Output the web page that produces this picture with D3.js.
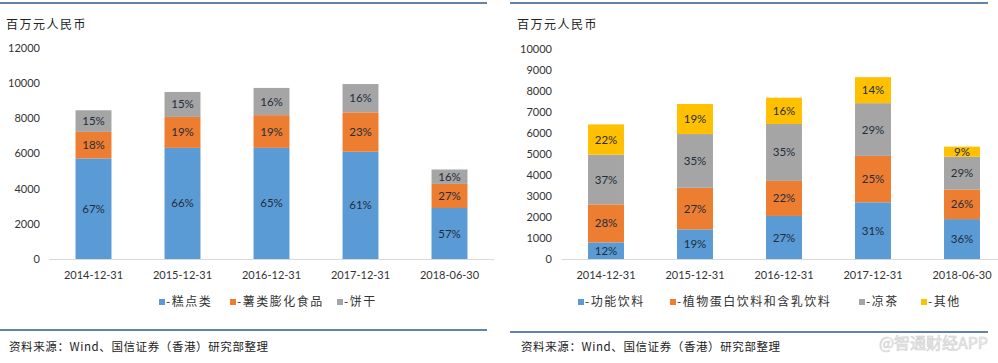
<!DOCTYPE html>
<html>
<head>
<meta charset="utf-8">
<script src="https://cdn.jsdelivr.net/npm/d3@7"></script>
<style>
  body { margin: 0; background: #fff; }
  svg { display: block; }
</style>
</head>
<body>
<script>
// categories shared by both panels
const categories = ['2014-12-31', '2015-12-31', '2016-12-31', '2017-12-31', '2018-06-30'];

// left panel: 休闲食品 (百万元人民币)
const leftSeries = ['糕点类', '薯类膨化食品', '饼干'];
const cakes = [5720, 6320, 6320, 6100, 2900];
const chips = [1510, 1760, 1860, 2240, 1370];
const biscuits = [1230, 1420, 1550, 1610, 820];
const cakesPct = ['67%', '66%', '65%', '61%', '57%'];
const chipsPct = ['18%', '19%', '19%', '23%', '27%'];
const biscuitsPct = ['15%', '15%', '16%', '16%', '16%'];
const leftTicks = [0, 2000, 4000, 6000, 8000, 10000, 12000];

// right panel: 饮料 (百万元人民币)
const rightSeries = ['功能饮料', '植物蛋白饮料和含乳饮料', '凉茶', '其他'];
const functional = [790, 1410, 2050, 2700, 1900];
const plantMilk = [1810, 1980, 1670, 2210, 1410];
const herbalTea = [2370, 2560, 2710, 2510, 1560];
const others = [1440, 1430, 1250, 1240, 480];
const functionalPct = ['12%', '19%', '27%', '31%', '36%'];
const plantMilkPct = ['28%', '27%', '22%', '25%', '26%'];
const herbalTeaPct = ['37%', '35%', '35%', '29%', '29%'];
const othersPct = ['22%', '19%', '16%', '14%', '9%'];
const rightTicks = [0, 1000, 2000, 3000, 4000, 5000, 6000, 7000, 8000, 9000, 10000];

const colors = ['#5b9bd5', '#ed7d31', '#a5a5a5', '#ffc000'];
const latin = 'Lato, "Open Sans", sans-serif';
const cjk = '"Noto Sans CJK SC", sans-serif';

const svg = d3.select('body').append('svg')
    .attr('width', 998)
    .attr('height', 363);

function drawPanel(opt) {
    const g = svg.append('g');

    // frame lines top and bottom
    g.append('line')
        .attr('x1', opt.frame[0]).attr('x2', opt.frame[1])
        .attr('y1', 3).attr('y2', 3)
        .attr('stroke', '#2e5c8a').attr('stroke-width', 1.5);
    g.append('line')
        .attr('x1', opt.frame[0]).attr('x2', opt.frame[1])
        .attr('y1', opt.bottomY).attr('y2', opt.bottomY)
        .attr('stroke', '#2e5c8a').attr('stroke-width', 1.5);

    // unit label
    g.append('text')
        .attr('x', opt.unitX).attr('y', 29)
        .attr('font-family', cjk).attr('font-size', 12)
        .attr('letter-spacing', 1.5)
        .attr('fill', '#222')
        .text('百万元人民币');

    const x = d3.scaleBand()
        .domain(categories)
        .range(opt.xRange)
        .paddingInner(0.596)
        .paddingOuter(0.298);

    const y = d3.scaleLinear()
        .domain([0, opt.yMax])
        .range([259, opt.yTop]);

    // y tick labels (no axis line)
    g.selectAll('.ytick')
        .data(opt.ticks)
        .enter().append('text')
        .attr('x', opt.tickX)
        .attr('y', d => y(d))
        .attr('dy', '0.35em')
        .attr('text-anchor', 'end')
        .attr('font-family', latin).attr('font-size', 11)
        .attr('fill', '#333')
        .text(d => d);

    // baseline
    g.append('line')
        .attr('x1', opt.xRange[0]).attr('x2', opt.xRange[1])
        .attr('y1', y(0) + 0.5).attr('y2', y(0) + 0.5)
        .attr('stroke', '#d9d9d9');

    // stacked data
    const keys = opt.series.map((s, i) => i);
    const rows = categories.map((c, j) => {
        const r = { cat: c };
        opt.values.forEach((v, i) => { r[i] = v[j]; });
        return r;
    });
    const stacked = d3.stack().keys(keys)(rows);

    stacked.forEach((layer, i) => {
        g.selectAll('.bar' + i)
            .data(layer)
            .enter().append('rect')
            .attr('x', d => x(d.data.cat))
            .attr('y', d => y(d[1]))
            .attr('width', x.bandwidth())
            .attr('height', d => y(d[0]) - y(d[1]))
            .attr('fill', colors[i]);

        g.selectAll('.lab' + i)
            .data(layer)
            .enter().append('text')
            .attr('x', d => x(d.data.cat) + x.bandwidth() / 2)
            .attr('y', d => (y(d[0]) + y(d[1])) / 2)
            .attr('dy', '0.35em')
            .attr('text-anchor', 'middle')
            .attr('font-family', latin).attr('font-size', 11.5)
            .attr('fill', '#1f2d3d')
            .text((d, j) => opt.labels[i][j]);
    });

    // category labels
    g.selectAll('.xtick')
        .data(categories)
        .enter().append('text')
        .attr('x', d => x(d) + x.bandwidth() / 2)
        .attr('y', 275)
        .attr('dy', '0.35em')
        .attr('text-anchor', 'middle')
        .attr('font-family', latin).attr('font-size', 11)
        .attr('fill', '#333')
        .text(d => d);

    // legend
    opt.series.forEach((s, i) => {
        const lx = opt.legendX[i];
        g.append('rect')
            .attr('x', lx).attr('y', 299)
            .attr('width', 6).attr('height', 6)
            .attr('fill', colors[i]);
        g.append('text')
            .attr('x', lx + 7).attr('y', 302)
            .attr('dy', '0.35em')
            .attr('font-family', cjk).attr('font-size', 12)
            .attr('letter-spacing', 1.5)
            .attr('fill', '#333')
            .text('-' + s);
    });

    // source
    g.append('text')
        .attr('x', opt.sourceX).attr('y', 347)
        .attr('dy', '0.35em')
        .attr('font-family', cjk).attr('font-size', 11.5)
        .attr('letter-spacing', 0.6)
        .attr('fill', '#222')
        .text('资料来源：Wind、国信证券（香港）研究部整理');
}

drawPanel({
    frame: [0, 487],
    bottomY: 330,
    unitX: 6,
    xRange: [49, 494],
    yMax: 12000,
    yTop: 48,
    ticks: leftTicks,
    tickX: 40,
    series: leftSeries,
    values: [cakes, chips, biscuits],
    labels: [cakesPct, chipsPct, biscuitsPct],
    legendX: [159, 230, 337],
    sourceX: 9
});

drawPanel({
    frame: [510, 988],
    bottomY: 332,
    unitX: 517,
    xRange: [561.5, 1006.5],
    yMax: 10000,
    yTop: 49,
    ticks: rightTicks,
    tickX: 552,
    series: rightSeries,
    values: [functional, plantMilk, herbalTea, others],
    labels: [functionalPct, plantMilkPct, herbalTeaPct, othersPct],
    legendX: [578, 670, 859, 921],
    sourceX: 521
});

// watermark
svg.append('text')
    .attr('x', 988).attr('y', 343)
    .attr('dy', '0.35em')
    .attr('text-anchor', 'end')
    .attr('font-family', cjk).attr('font-size', 16)
    .attr('fill', '#f0f0f0')
    .attr('stroke', '#cfcfcf').attr('stroke-width', 0.6)
    .text('@智通财经APP');
</script>
</body>
</html>
